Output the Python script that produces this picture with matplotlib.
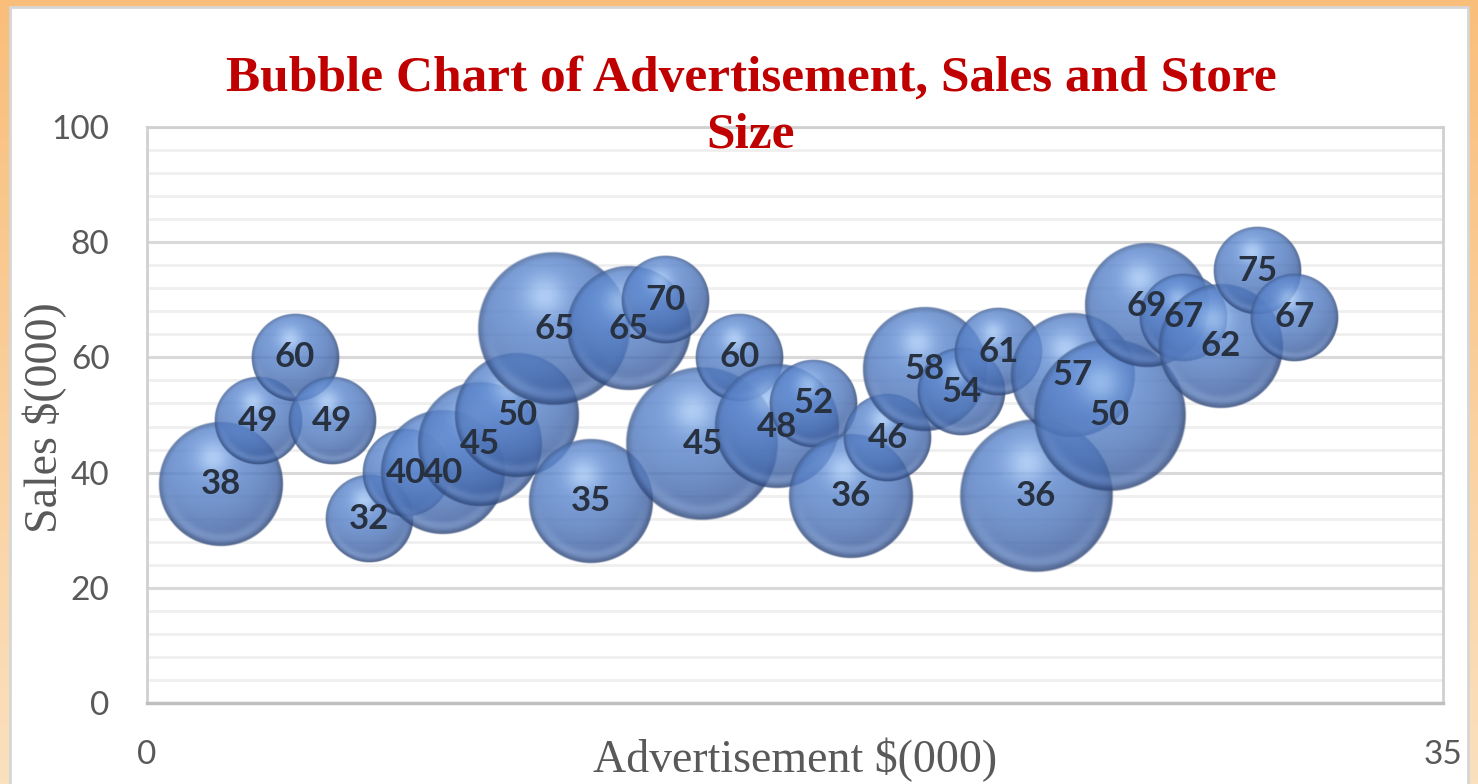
import numpy as np
import matplotlib.pyplot as plt
from matplotlib.patches import Rectangle
from matplotlib.ticker import MultipleLocator

# advertisement spend, sales and store size (bubble area)
advertisement = [2, 3, 4, 5, 6, 7, 8, 9, 10, 11, 12, 13, 14, 15, 16,
                 17, 18, 19, 20, 21, 22, 23, 24, 25, 26, 27, 28, 29, 30, 31]
sales = [38, 49, 60, 49, 32, 40, 40, 45, 50, 65, 35, 65, 70, 45, 60,
         48, 52, 36, 46, 58, 54, 61, 36, 57, 50, 69, 67, 62, 75, 67]
store_size = [4, 2, 2, 2, 2, 2, 4, 4, 4, 6, 4, 4, 2, 6, 2,
              4, 2, 4, 2, 4, 2, 2, 6, 4, 6, 4, 2, 4, 2, 2]

x_ticks = [0, 35]
y_ticks = [0, 20, 40, 60, 80, 100]

W, H, DPI = 1478, 784, 100
fig = plt.figure(figsize=(W / DPI, H / DPI), dpi=DPI)

# orange frame + white chart area
bg = fig.add_axes([0, 0, 1, 1], zorder=-2)
grad = np.linspace(0, 1, 256)[:, None, None]
top_c = np.array([249, 190, 122]) / 255
bot_c = np.array([251, 224, 190]) / 255
bg.imshow(top_c + (bot_c - top_c) * grad * np.ones((1, 4, 1)), aspect='auto',
          extent=[0, 1, 0, 1], origin='upper')
bg.add_patch(Rectangle((10 / W, -0.1), 1458 / W, 1 - 7 / H + 0.1,
                       facecolor='white', edgecolor='#d6d6d6', linewidth=2))
bg.set_xlim(0, 1)
bg.set_ylim(0, 1)
bg.axis('off')

ax_l, ax_r, ax_t, ax_b = 147, 1443, 127, 703
ax = fig.add_axes([ax_l / W, 1 - ax_b / H, (ax_r - ax_l) / W, (ax_b - ax_t) / H])
ax.set_autoscale_on(False)
ax.set_xlim(0, 35)
ax.set_ylim(0, 100)
ax.set_facecolor('white')


def sphere(n=300):
    v, u = np.mgrid[1:-1:n * 1j, -1:1:n * 1j]
    r = np.hypot(u, v)
    z = np.sqrt(np.clip(1 - r ** 2, 0, 1))
    L = np.array([-0.2, 0.5, 0.85])
    L = L / np.linalg.norm(L)
    d = np.clip(u * L[0] + v * L[1] + z * L[2], 0, 1)
    dark = np.array([0.21, 0.33, 0.57])
    mid = np.array([0.38, 0.55, 0.83])
    hi = np.array([0.72, 0.85, 1.0])
    col = dark + (mid - dark) * (d ** 0.8)[..., None]
    spec = np.exp(-((u + 0.12) ** 2 + (v - 0.42) ** 2) / 0.07)
    col = col + (hi - col) * (0.7 * spec)[..., None]
    refl = np.exp(-((r - 0.86) / 0.08) ** 2) * np.clip(-v * 1.3, 0, 1)
    col = col + (np.array([0.58, 0.72, 0.94]) - col) * (0.35 * refl)[..., None]
    rim = np.clip((r - 0.9) / 0.1, 0, 1)
    col = col * (1 - 0.25 * rim)[..., None]
    alpha = np.clip((1 - r) / 0.025, 0, 1) * 0.82
    return np.dstack([np.clip(col, 0, 1), alpha])


ball = sphere()
px_x = (ax_r - ax_l) / 35
px_y = (ax_b - ax_t) / 100
r_max = 77
s_max = max(store_size)
for xv, yv, sv in zip(advertisement, sales, store_size):
    rp = r_max * np.sqrt(sv / s_max)
    rx, ry = rp / px_x, rp / px_y
    ax.imshow(ball, extent=[xv - rx, xv + rx, yv - ry, yv + ry],
              aspect='auto', origin='upper', zorder=3, interpolation='antialiased')

for xv, yv in zip(advertisement, sales):
    ax.text(xv, yv, str(yv), ha='center', va='center', fontsize=25,
            fontweight='bold', family='Lato', color='#283140', zorder=5)

ax.set_xlim(0, 35)
ax.set_ylim(0, 100)
ax.set_xticks(x_ticks)
ax.set_yticks(y_ticks)
ax.yaxis.set_minor_locator(MultipleLocator(4))
ax.grid(True, which='major', axis='y', color='#d9d9d9', linewidth=2.2, zorder=0)
ax.grid(True, which='minor', axis='y', color='#efefef', linewidth=2, zorder=0)
ax.set_axisbelow(True)
ax.tick_params(which='both', length=0)
ax.tick_params(axis='y', pad=27, labelsize=24, labelcolor='#595959')
ax.tick_params(axis='x', pad=27, labelsize=24, labelcolor='#595959')
for lab in ax.get_xticklabels() + ax.get_yticklabels():
    lab.set_family('Lato')
for side in ['left', 'right', 'top']:
    ax.spines[side].set_color('#d0d0d0')
    ax.spines[side].set_linewidth(2)
ax.spines['bottom'].set_color('#bfbfbf')
ax.spines['bottom'].set_linewidth(2.5)

fig.text(795 / W, 1 - 760 / H, 'Advertisement $(000)', ha='center', va='center',
         fontsize=33, family='Liberation Serif', color='#595959')
fig.text(45 / W, 1 - 418 / H, 'Sales $(000)', ha='center', va='center', rotation=90,
         fontsize=33, family='Liberation Serif', color='#595959')
fig.text(751 / W, 1 - 107 / H, 'Bubble Chart of Advertisement, Sales and Store\nSize',
         ha='center', va='center', fontsize=37, fontweight='bold',
         family='Liberation Serif', color='#c00000', linespacing=1.32)

fig.savefig('out.png', dpi=DPI)
